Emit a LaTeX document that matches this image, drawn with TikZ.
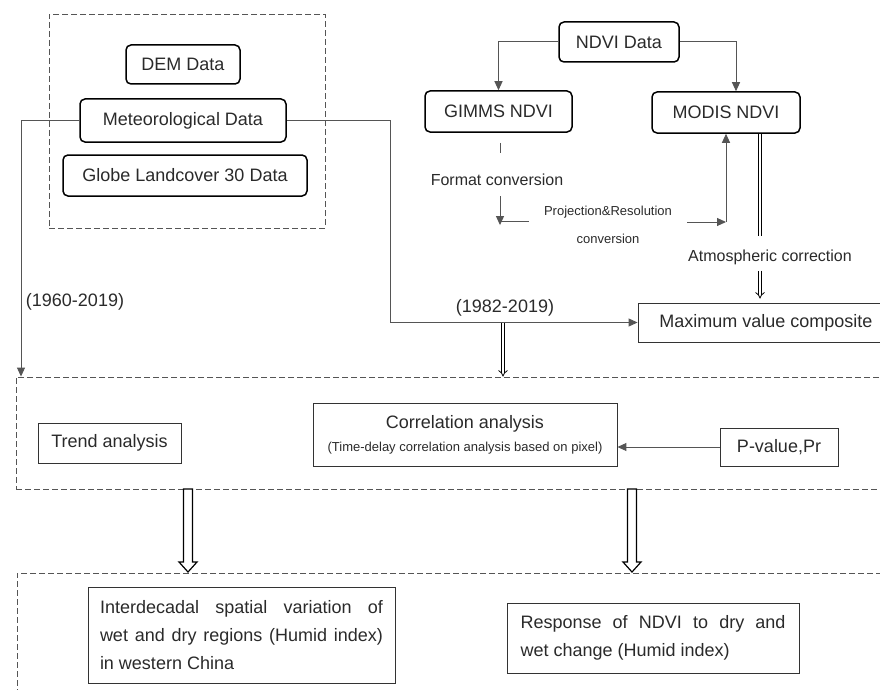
\documentclass[tikz,border=0pt]{standalone}
\usepackage{fontspec}
\setmainfont{Liberation Sans}
\usetikzlibrary{arrows.meta,calc}
\definecolor{linegray}{HTML}{555555}
\definecolor{textgray}{HTML}{2A2A2A}

\newcommand{\fbig}{\fontsize{18}{22}\selectfont}
\newcommand{\fmid}{\fontsize{16}{20}\selectfont}
\newcommand{\fsmall}{\fontsize{13}{16}\selectfont}

\begin{document}
\begin{tikzpicture}[x=1pt,y=-1pt,
  rbox/.style={draw=black, line width=1.5pt, rounded corners=5pt, font=\fbig, text=textgray, inner sep=0pt},
  sbox/.style={draw=black!80, line width=0.9pt, font=\fbig, text=textgray, inner sep=0pt},
  grp/.style={draw=linegray, line width=0.9pt, dash pattern=on 6pt off 3pt, inner sep=0pt},
  link/.style={draw=linegray, line width=1pt},
  arr/.style={-{Triangle[length=9pt,width=8pt]}},
  dbl/.style={draw=black, double, double distance=2.5pt, line width=0.8pt},
  fat/.style={draw=black, line width=1.2pt, fill=white},
  lbl/.style={font=\fbig, text=textgray, inner sep=2pt}]

  \useasboundingbox (0,0) rectangle (880,690);
  \clip (0,0) rectangle (880,690);

  % ---------- Source data ----------
  \node[grp, minimum width=276, minimum height=214] (src) at (187,121) {};
  \node[rbox, minimum width=114, minimum height=39] (dem) at (183,64.5) {DEM Data};
  \node[rbox, minimum width=206, minimum height=43] (met) at (183,120.5) {Meteorological Data};
  \node[rbox, minimum width=244, minimum height=41] (glc) at (185,175.5) {Globe Landcover 30 Data};

  % ---------- NDVI branch ----------
  \node[rbox, minimum width=120, minimum height=40] (ndvi) at (619,42) {NDVI Data};
  \node[rbox, minimum width=147, minimum height=41] (gimms) at (498.5,111.5) {GIMMS NDVI};
  \node[rbox, minimum width=148, minimum height=41] (modis) at (726,112.5) {MODIS NDVI};

  \node[lbl, font=\fmid] (fmt) at (497,180) {Format conversion};
  \node[lbl, font=\fsmall, align=center, inner xsep=15pt] (proj) at (608,225)
    {Projection\&Resolution\\[12pt]conversion};
  \node[lbl, font=\fmid] (atm) at (770,257) {Atmospheric correction};

  \node[sbox, minimum width=256, minimum height=39] (mvc) at (766,322.5) {Maximum value composite};

  \coordinate (gx) at (500,0);
  \coordinate (ax) at (760,0);
  \coordinate (lx) at (21,0);
  \coordinate (rx) at (390,0);
  \coordinate (bx) at (503,0);

  \draw[link, arr] (ndvi.west) -| (gimms.north);
  \draw[link, arr] (ndvi.east) -| ([xshift=10pt]modis.north);

  % GIMMS processing (partly hidden line)
  \draw[link] ([yshift=-10pt]gimms.south -| gx) -- ++(0,10);
  \draw[link, arr] (fmt.south -| gx) ++(0,8) -- ++(0,29);
  \draw[link] ([yshift=4pt]proj.west) -- ([yshift=4pt]proj.west -| gx);
  \draw[link, arr] ([yshift=3pt]proj.east) -- ([yshift=3pt]proj.east -| modis.south);
  \draw[link, arr] ([yshift=3pt]proj.east -| modis.south) -- (modis.south);

  % MODIS processing
  \draw[dbl] (modis.south -| ax) -- ++(0,102);
  \draw[dbl, -Implies] (atm.south -| ax) ++(0,4) -- ([yshift=4pt]mvc.north -| ax);

  % ---------- Analysis ----------
  \node[grp, minimum width=884, minimum height=112] (mid) at (458,433) {};
  \node[sbox, minimum width=143, minimum height=40] (trend) at (109.5,443) {Trend analysis};
  \node[sbox, minimum width=304, minimum height=63, align=center] (corr) at (465,434.5)
    {Correlation analysis\\[1pt]{\fsmall (Time-delay correlation analysis based on pixel)}};
  \node[sbox, minimum width=118, minimum height=38] (pv) at (779,447) {P-value,Pr};

  \draw[link, arr] (pv.west) -- (pv.west -| corr.east);

  % meteorological links and periods
  \draw[link, arr] (met.west) -| (lx |- mid.north);
  \node[lbl] (yr1) at (75,302) {(1960-2019)};
  \draw[link, arr] (met.east) -| (rx |- mvc.west) -- (mvc.west);
  \node[lbl] (yr2) at (505,308) {(1982-2019)};
  \draw[dbl, -Implies] (bx |- mvc.west) -- (bx |- mid.north);

  % ---------- Results ----------
  \node[grp, minimum width=882, minimum height=154] (low) at (458,650) {};
  \node[sbox, line width=0.8pt, minimum width=307, minimum height=96, text width=283pt,
        align=justify, font=\fontsize{18}{28}\selectfont] (res1) at (241.5,635)
    {Interdecadal spatial variation of\linebreak wet and dry regions (Humid index)\linebreak in western China};
  \node[sbox, line width=0.8pt, minimum width=292, minimum height=70, text width=265pt,
        align=justify, font=\fontsize{18}{28}\selectfont] (res2) at (653,638)
    {Response of NDVI to dry and\linebreak wet change (Humid index)};

  \foreach \hx in {188,632} {
    \draw[fat] (\hx-4.5,489) -- (\hx-4.5,562) -- (\hx-9,562) -- (\hx,572)
      -- (\hx+9,562) -- (\hx+4.5,562) -- (\hx+4.5,489) -- cycle;
  }
\end{tikzpicture}
\end{document}
